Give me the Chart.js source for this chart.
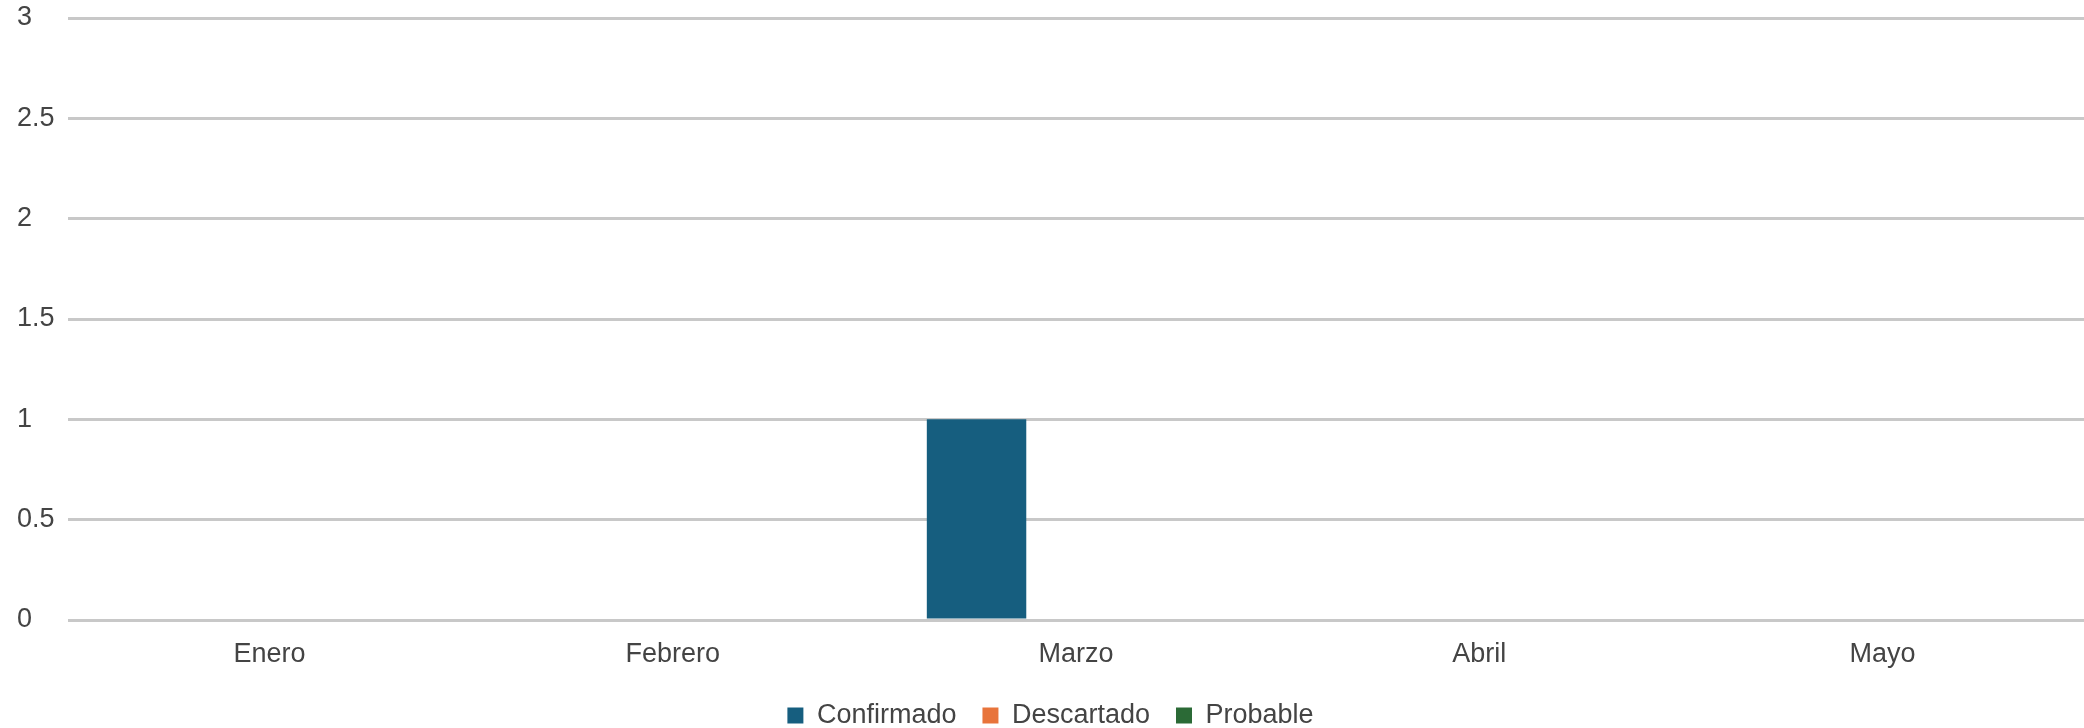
<!DOCTYPE html>
<html>
<head>
<meta charset="utf-8">
<script src="https://cdn.jsdelivr.net/npm/chart.js@4/dist/chart.umd.min.js"></script>
<style>
  html, body { margin: 0; padding: 0; background: #fff; }
  #wrap { width: 2084px; height: 728px; }
</style>
</head>
<body>
<div id="wrap"><canvas id="chart"></canvas></div>
<script>
const months = ['Enero', 'Febrero', 'Marzo', 'Abril', 'Mayo'];
const confirmado = [0, 0, 1, 0, 0];
const descartado = [0, 0, 0, 0, 0];
const probable = [0, 0, 0, 0, 0];

const fam = "'Liberation Sans', Arial, sans-serif";
const txt = { family: fam, size: 27, lineHeight: 1.2 };

const ctx = document.getElementById('chart').getContext('2d');
new Chart(ctx, {
  type: 'bar',
  data: {
    labels: months,
    datasets: [
      { label: 'Confirmado', data: confirmado, backgroundColor: '#165e7f' },
      { label: 'Descartado', data: descartado, backgroundColor: '#e8743b' },
      { label: 'Probable', data: probable, backgroundColor: '#2b6a36' }
    ]
  },
  options: {
    responsive: true,
    maintainAspectRatio: false,
    animation: false,
    layout: { padding: { left: 17, right: 0, top: 18, bottom: -11 } },
    datasets: { bar: { categoryPercentage: 0.74, barPercentage: 1.0 } },
    plugins: {
      legend: {
        position: 'bottom',
        labels: {
          color: '#444',
          font: { family: fam, size: 27, lineHeight: 1 },
          boxWidth: 16,
          boxHeight: 16,
          padding: 26
        }
      },
      tooltip: { enabled: false }
    },
    scales: {
      x: {
        grid: { display: false },
        border: { display: false },
        ticks: { color: '#444', font: txt, padding: 10 },
        afterFit: s => { s.height = 56; }
      },
      y: {
        min: 0,
        max: 3,
        border: { display: false },
        grid: { color: '#c8c8c8', lineWidth: 3, drawTicks: false },
        ticks: {
          stepSize: 0.5,
          color: '#444',
          crossAlign: 'far',
          padding: 8,
          font: txt,
          callback: v => String(v)
        },
        afterFit: s => { s.width = 51; s.paddingTop = 0; s.paddingBottom = 0; }
      }
    }
  }
});
</script>
</body>
</html>
